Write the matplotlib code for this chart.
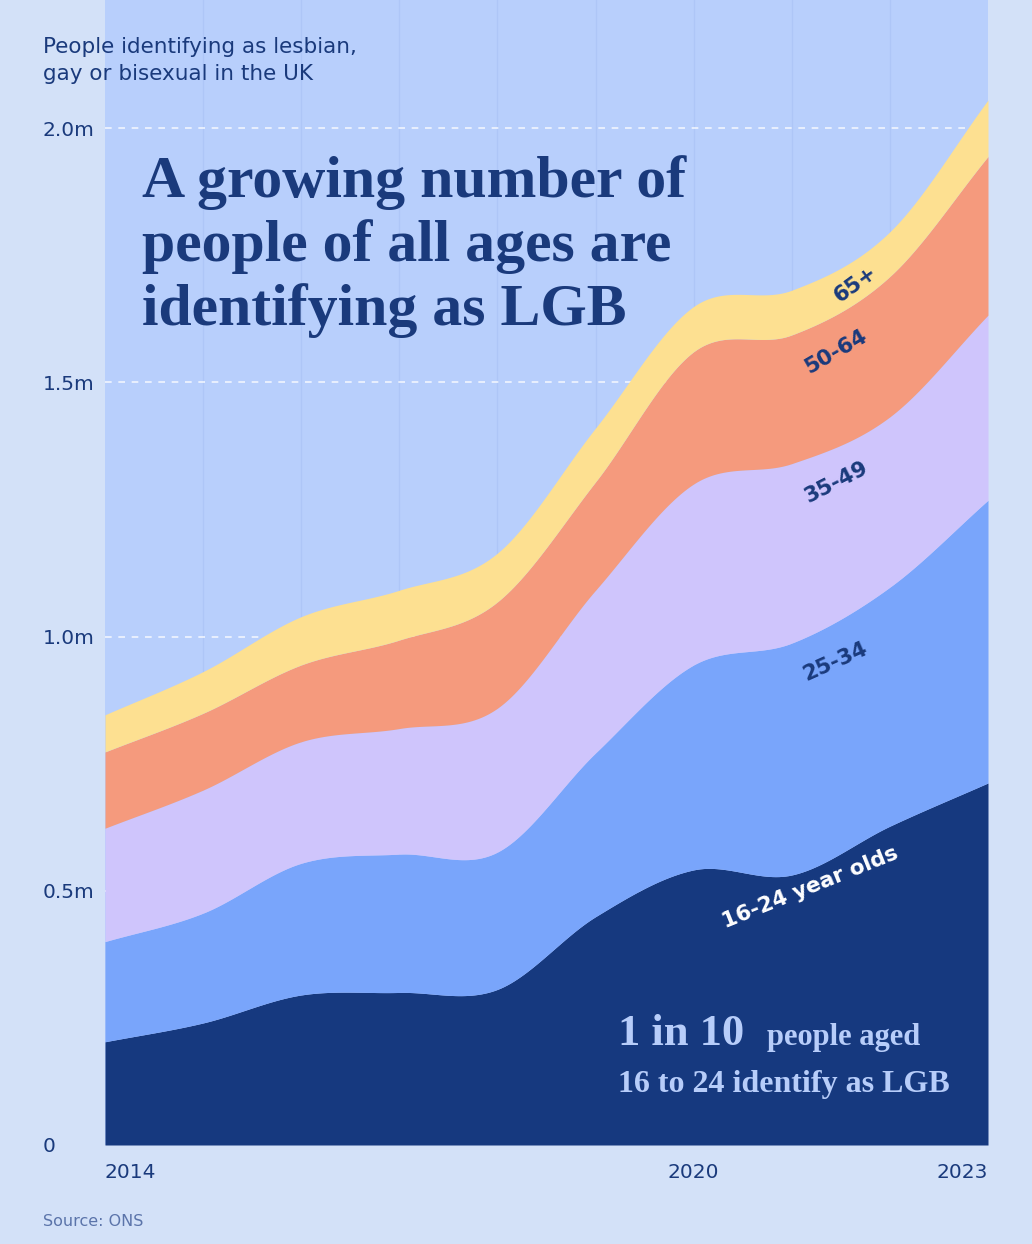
import numpy as np
import matplotlib
matplotlib.use("Agg")
import matplotlib.pyplot as plt

# people identifying as LGB in the UK, millions
years = [2014, 2015, 2016, 2017, 2018, 2019, 2020, 2021, 2022, 2023]
age_16_24 = [0.203, 0.240, 0.295, 0.300, 0.306, 0.449, 0.541, 0.531, 0.627, 0.712]
age_25_34 = [0.197, 0.216, 0.259, 0.272, 0.270, 0.322, 0.403, 0.456, 0.470, 0.556]
age_35_49 = [0.223, 0.242, 0.239, 0.247, 0.283, 0.320, 0.356, 0.353, 0.335, 0.364]
age_50_64 = [0.150, 0.151, 0.151, 0.174, 0.209, 0.213, 0.260, 0.253, 0.276, 0.312]
age_65 = [0.073, 0.082, 0.095, 0.098, 0.096, 0.106, 0.089, 0.088, 0.088, 0.111]

groups = ["16-24", "25-34", "35-49", "50-64", "65+"]
colors = ["#16397f", "#79a5fb", "#cfc5fc", "#f59a7d", "#fde091"]

ytick_vals = [0, 0.5, 1.0, 1.5, 2.0]
ytick_labels = ["0", "0.5m", "1.0m", "1.5m", "2.0m"]
xtick_vals = [2014, 2020, 2023]

W, H = 1032, 1244
navy = "#1a3a7c"
bg_out = "#d3e1f8"
bg_plot = "#b8cffc"
sans = ["DejaVu Sans"]
serif = ["Liberation Serif", "DejaVu Serif"]


def smooth(x, y, n=30):
    # cardinal (catmull-rom) curve through the points, for drawing only
    x = np.asarray(x, float)
    y = np.asarray(y, float)
    m = np.zeros_like(y)
    m[1:-1] = (y[2:] - y[:-2]) / (x[2:] - x[:-2])
    m[0] = (y[1] - y[0]) / (x[1] - x[0])
    m[-1] = (y[-1] - y[-2]) / (x[-1] - x[-2])
    xs, ys = [], []
    for i in range(len(x) - 1):
        h = x[i + 1] - x[i]
        t = np.linspace(0, 1, n, endpoint=False)
        h00 = 2 * t**3 - 3 * t**2 + 1
        h10 = t**3 - 2 * t**2 + t
        h01 = -2 * t**3 + 3 * t**2
        h11 = t**3 - t**2
        xs.append(x[i] + t * h)
        ys.append(h00 * y[i] + h10 * h * m[i] + h01 * y[i + 1] + h11 * h * m[i + 1])
    xs.append([x[-1]])
    ys.append([y[-1]])
    return np.concatenate(xs), np.concatenate(ys)


fig = plt.figure(figsize=(W / 100, H / 100), dpi=100, facecolor=bg_out)
ax = fig.add_axes([105 / W, (H - 1145) / H, (988 - 105) / W, 1145 / H])
ax.set_facecolor(bg_plot)
ax.set_xlim(2014, 2023)
ax.set_ylim(0, 1145 / 508.5)
for s in ax.spines.values():
    s.set_visible(False)

# faint year lines and dashed gridlines
for yr in years[1:-1]:
    ax.axvline(yr, color="#aec6f7", lw=1.0, zorder=0)
for v in ytick_vals[1:]:
    ax.axhline(v, color="white", lw=1.2, ls=(0, (4, 4)), alpha=0.8, zorder=0.5)

series = [age_16_24, age_25_34, age_35_49, age_50_64, age_65]
lower = np.zeros(len(years))
xs, prev = smooth(years, lower)
for vals, c in zip(series, colors):
    upper = lower + np.array(vals)
    xs, cur = smooth(years, upper)
    ax.fill_between(xs, prev, cur, color=c, lw=0, zorder=1)
    prev = cur
    lower = upper

ax.set_yticks(ytick_vals)
ax.set_yticklabels(ytick_labels, fontsize=14.5, color=navy, family=sans)
ax.tick_params(axis="y", length=0, pad=45)
for lab in ax.get_yticklabels():
    lab.set_horizontalalignment("left")
ax.set_xticks(xtick_vals)
ax.set_xticklabels([str(v) for v in xtick_vals], fontsize=14.5, color=navy, family=sans)
ax.tick_params(axis="x", length=0, pad=13)
xl = ax.get_xticklabels()
xl[0].set_horizontalalignment("left")
xl[2].set_horizontalalignment("right")


def px(x, y):
    return x / W, 1 - y / H


def data_pt(x, y):
    return 2014 + (x - 105) / ((988 - 105) / 9), (1145 - y) / 508.5


# subtitle and title
fig.text(*px(43, 53), "People identifying as lesbian,", fontsize=15.5, color=navy,
         family=sans, va="baseline")
fig.text(*px(43, 80), "gay or bisexual in the UK", fontsize=15.5, color=navy,
         family=sans, va="baseline")
for i, line in enumerate(["A growing number of", "people of all ages are",
                          "identifying as LGB"]):
    fig.text(*px(142, 197 + 64 * i), line, fontsize=43, fontweight="bold",
             color=navy, family=serif, va="baseline")

# group labels along the bands
labels = [("65+", 855, 284, 36, navy), ("50-64", 836, 352, 30, navy),
          ("35-49", 836, 482, 27, navy), ("25-34", 835, 662, 24, navy),
          ("16-24 year olds", 810, 888, 22, "white")]
for text, lx, ly, rot, c in labels:
    ax.text(*data_pt(lx, ly), text, fontsize=15.5, fontweight="bold", color=c,
            family=sans, rotation=rot, rotation_mode="anchor", ha="center",
            va="center", zorder=3)

# callout
light = "#b7cdfa"
fig.text(*px(618, 1045), "1 in 10", fontsize=32, fontweight="bold", color=light,
         family=serif, va="baseline")
fig.text(*px(767, 1045), "people aged", fontsize=22, fontweight="bold",
         color=light, family=serif, va="baseline")
fig.text(*px(618, 1092), "16 to 24 identify as LGB", fontsize=23,
         fontweight="bold", color=light, family=serif, va="baseline")

fig.text(*px(43, 1226), "Source: ONS", fontsize=11.5, color="#5b74aa",
         family=sans, va="baseline")

fig.savefig("out.png", dpi=100, facecolor=bg_out)
